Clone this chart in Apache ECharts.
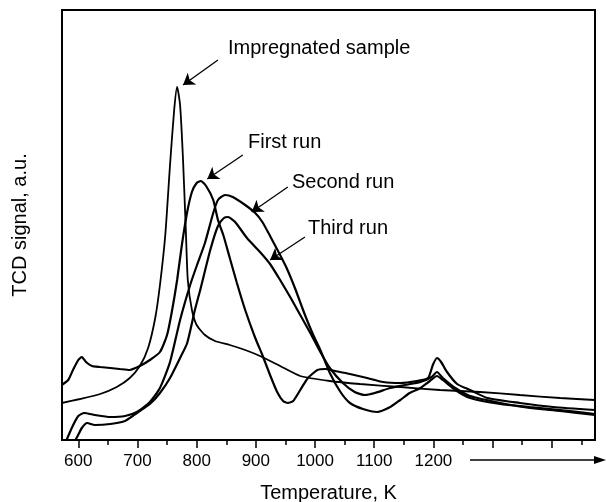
<!DOCTYPE html>
<html><head><meta charset="utf-8">
<script src="https://cdn.jsdelivr.net/npm/echarts@6/dist/echarts.min.js"></script>
<style>html,body{margin:0;padding:0;background:#fff}#c{width:606px;height:502px}</style>
</head><body><div id="c"></div>
<script>
// Temperature (K) and TCD signal (a.u.)
var impregnated = [[572,37],[603,41],[637,46],[665,53],[687,62],[704,74],[718,92],[730,122],[738,155],[747,205],[755,275],[762,330],[767,353],[772,335],[777,280],[782,205],[785,160],[792,130],[800,115],[814,105],[831,99],[856,95],[882,90],[907,84],[941,74],[975,64],[1025,59],[1076,56],[1144,53],[1211,50],[1279,48],[1346,45],[1414,42],[1473,40]];
var firstRun = [[572,55],[583,60],[591,70],[600,80],[606,83],[613,78],[623,74],[637,73],[654,72],[670,71],[687,70],[704,74],[721,80],[738,88],[750,105],[758,128],[767,160],[775,195],[784,228],[792,248],[800,257],[807,259],[816,254],[828,240],[836,220],[845,205],[856,182],[868,157],[882,130],[899,102],[911,85],[924,65],[936,48],[946,39],[954,37],[963,39],[975,50],[988,62],[1004,70],[1017,71],[1034,69],[1059,66],[1088,62],[1115,58],[1144,57],[1172,59],[1191,62],[1199,75],[1206,82],[1213,78],[1223,68],[1240,56],[1262,50],[1291,42],[1346,37],[1402,33],[1473,30]];
var secondRun = [[576,-6],[589,12],[600,24],[610,27],[628,25],[654,23],[679,24],[699,28],[721,38],[738,52],[755,78],[772,120],[789,155],[800,174],[814,197],[828,227],[836,240],[848,245],[861,243],[882,235],[899,227],[911,218],[924,204],[941,185],[952,172],[966,152],[983,125],[997,105],[1009,90],[1025,67],[1043,48],[1059,37],[1081,31],[1105,28],[1127,33],[1144,40],[1160,47],[1178,52],[1194,59],[1206,64],[1216,60],[1237,50],[1262,42],[1313,36],[1363,33],[1414,30],[1473,26]];
var thirdRun = [[589,-6],[598,3],[606,12],[615,17],[628,15],[654,16],[679,19],[699,27],[721,36],[738,47],[755,62],[772,82],[784,97],[797,130],[806,150],[823,190],[836,214],[846,222],[853,223],[865,218],[885,202],[907,188],[924,176],[941,160],[958,143],[975,125],[992,107],[1009,88],[1025,72],[1047,57],[1067,48],[1084,45],[1101,47],[1127,52],[1152,55],[1178,58],[1197,63],[1206,68],[1216,62],[1237,52],[1262,44],[1313,37],[1363,32],[1414,29],[1473,25]];
var majorTicks = [600,700,800,900,1000,1100,1200,1300,1400];
var minorTicks = [650,750,850,950,1050,1150,1250,1350,1450];
var tickLabels = [600,700,800,900,1000,1100,1200];
var seriesNames = ['Impregnated sample','First run','Second run','Third run'];
// annotation arrows: [from, to] in data space
var arrows = [[[836,380],[777,355]],[[878,285],[818,261]],[[954,253],[893,228]],[[983,203],[924,180]]];

var FONT = 'Liberation Sans, Arial, sans-serif';
var chart = echarts.init(document.getElementById('c'), null, {renderer:'canvas'});
function lineSeries(name, data, w, extra){
  var s = {name:name, type:'line', data:data, showSymbol:false, symbol:'none', smooth:0.2,
    xAxisIndex:0, yAxisIndex:0, clip:true,
    lineStyle:{color:'#000', width:w}, animation:false, silent:true};
  if (extra) for (var k in extra) s[k]=extra[k];
  return s;
}
var option = {
  animation:false,
  backgroundColor:'#fff',
  grid:{left:62, right:11, top:10, bottom:62, show:true, borderColor:'#000', borderWidth:2,
    backgroundColor:'transparent', containLabel:false, outerBoundsMode:'none'},
  xAxis:[{
    type:'value', min:572.5, max:1473, position:'bottom',
    axisLine:{show:true, onZero:false, lineStyle:{color:'#000', width:2}},
    axisTick:{show:true, inside:false, length:8, customValues:majorTicks, lineStyle:{color:'#000', width:1.5}},
    axisLabel:{show:true, customValues:tickLabels, color:'#000', fontSize:17, fontFamily:FONT, margin:13,
      formatter:function(v){return String(v);}},
    splitLine:{show:false},
    name:'Temperature, K', nameLocation:'middle', nameGap:43,
    nameTextStyle:{color:'#000', fontSize:20, fontFamily:FONT}
  },{
    type:'value', min:572.5, max:1473, position:'bottom',
    axisLine:{show:false, onZero:false},
    axisTick:{show:true, inside:false, length:5, customValues:minorTicks, lineStyle:{color:'#000', width:1.5}},
    axisLabel:{show:false}, splitLine:{show:false}
  }],
  yAxis:{
    type:'value', min:0, max:430,
    axisLine:{show:true, lineStyle:{color:'#000', width:2}},
    axisTick:{show:false}, axisLabel:{show:false}, splitLine:{show:false},
    name:'TCD signal, a.u.', nameLocation:'middle', nameGap:32, nameRotate:90,
    nameTextStyle:{color:'#000', fontSize:20, fontFamily:FONT}
  },
  series:[
    lineSeries(seriesNames[0], impregnated, 1.8, {
      markLine:{silent:true, symbol:['none','arrow'], symbolSize:11, animation:false,
        lineStyle:{color:'#000', width:1.3, type:'solid', opacity:1}, label:{show:false},
        emphasis:{disabled:true},
        data: arrows.map(function(a){return [{coord:a[0]},{coord:a[1]}];})}
    }),
    lineSeries(seriesNames[1], firstRun, 2.2),
    lineSeries(seriesNames[2], secondRun, 2.2),
    lineSeries(seriesNames[3], thirdRun, 2.2)
  ],
  graphic:[
    {type:'text', left:228, top:38, style:{text:seriesNames[0], font:'20px '+FONT, fill:'#000'}},
    {type:'text', left:248, top:132, style:{text:seriesNames[1], font:'20px '+FONT, fill:'#000'}},
    {type:'text', left:292, top:172, style:{text:seriesNames[2], font:'20px '+FONT, fill:'#000'}},
    {type:'text', left:308, top:218, style:{text:seriesNames[3], font:'20px '+FONT, fill:'#000'}},
    {type:'line', shape:{x1:470, y1:460, x2:598, y2:460}, style:{stroke:'#000', lineWidth:1.5}},
    {type:'polygon', shape:{points:[[606,460],[594,456],[594,464]]}, style:{fill:'#000'}}
  ]
};
chart.setOption(option);
</script></body></html>
